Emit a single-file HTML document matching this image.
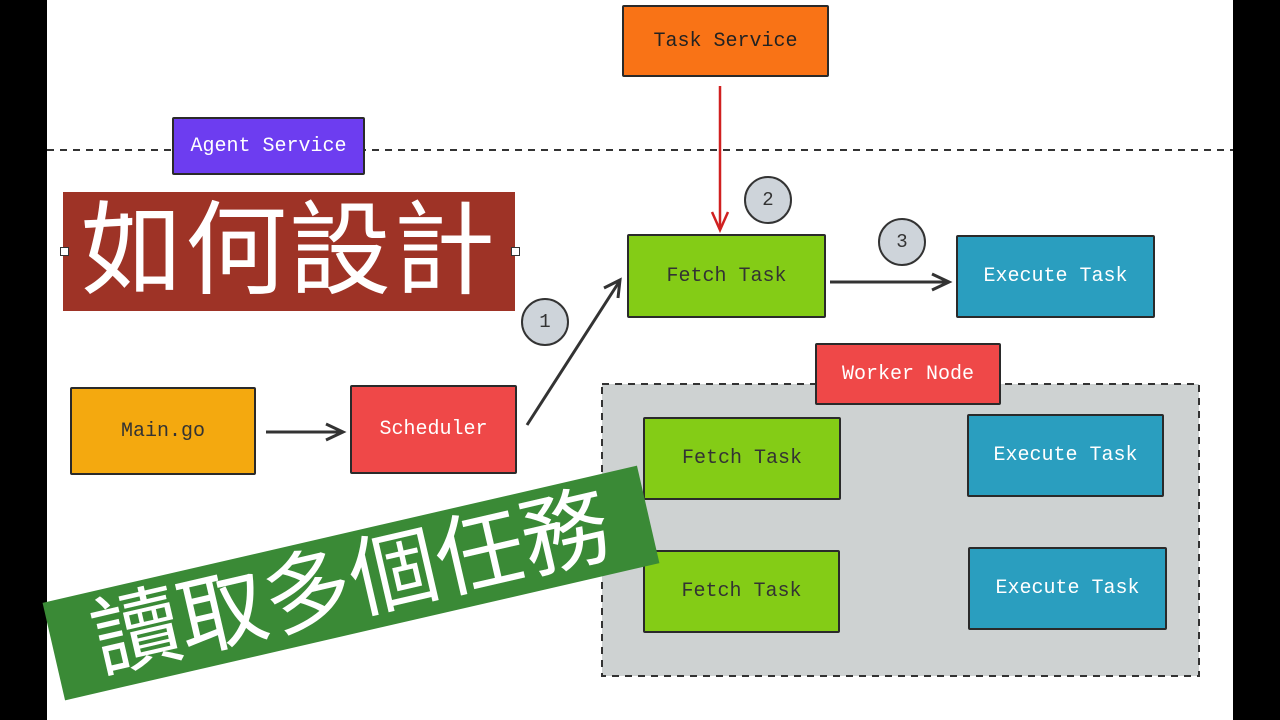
<!DOCTYPE html>
<html><head><meta charset="utf-8"><style>
body{margin:0;width:1280px;height:720px;background:#000;position:relative;overflow:hidden;font-family:"Liberation Mono",monospace}
#c{position:absolute;left:47px;top:0;width:1186px;height:720px;background:#fff}
.b{position:absolute;box-sizing:border-box;border:2.5px solid #2a2a2a;border-radius:2px;display:flex;align-items:center;justify-content:center;font-size:20px}
.cir{position:absolute;width:48px;height:48px;border-radius:50%;background:#ced4da;border:2.5px solid #333;box-sizing:border-box;display:flex;align-items:center;justify-content:center;font-size:19px;color:#333}
</style></head><body>
<div id="c"></div>
<svg width="1280" height="720" style="position:absolute;left:0;top:0">
<line x1="47" y1="150" x2="1233" y2="150" stroke="#333" stroke-width="2" stroke-dasharray="7,6"/>
<rect x="602" y="384" width="597" height="292" fill="#ced2d2" stroke="#333" stroke-width="2" stroke-dasharray="7,6"/>
<line x1="720" y1="86" x2="720" y2="228" stroke="#d02020" stroke-width="2.5"/>
<path d="M712 212 L720 230 L728 212" fill="none" stroke="#d02020" stroke-width="2.5"/>
<line x1="830" y1="282" x2="948" y2="282" stroke="#333" stroke-width="3"/>
<path d="M932 274 L949 282 L932 290" fill="none" stroke="#333" stroke-width="3"/>
<line x1="266" y1="432" x2="342" y2="432" stroke="#333" stroke-width="3"/>
<path d="M326 424 L343 432 L326 440" fill="none" stroke="#333" stroke-width="3"/>
<line x1="527" y1="425" x2="619" y2="282" stroke="#333" stroke-width="3"/>
<path d="M604 288 L620 280 L618 298" fill="none" stroke="#333" stroke-width="3"/>
</svg>
<div class="b" style="left:622px;top:5px;width:207px;height:72px;background:#f97316;color:#222">Task Service</div>
<div class="b" style="left:172px;top:117px;width:193px;height:58px;background:#6d3df0;color:#fff">Agent Service</div>
<div class="b" style="left:627px;top:234px;width:199px;height:84px;background:#84cc16;color:#333">Fetch Task</div>
<div class="b" style="left:956px;top:235px;width:199px;height:83px;background:#2a9ebf;color:#fff">Execute Task</div>
<div class="b" style="left:70px;top:387px;width:186px;height:88px;background:#f4a90f;color:#333">Main.go</div>
<div class="b" style="left:350px;top:385px;width:167px;height:89px;background:#ef4848;color:#fff">Scheduler</div>
<div class="b" style="left:815px;top:343px;width:186px;height:62px;background:#ef4848;color:#fff">Worker Node</div>
<div class="b" style="left:643px;top:417px;width:198px;height:83px;background:#84cc16;color:#333">Fetch Task</div>
<div class="b" style="left:967px;top:414px;width:197px;height:83px;background:#2a9ebf;color:#fff">Execute Task</div>
<div class="b" style="left:643px;top:550px;width:197px;height:83px;background:#84cc16;color:#333">Fetch Task</div>
<div class="b" style="left:968px;top:547px;width:199px;height:83px;background:#2a9ebf;color:#fff">Execute Task</div>
<div class="cir" style="left:744px;top:176px">2</div>
<div class="cir" style="left:878px;top:218px">3</div>
<div class="cir" style="left:521px;top:298px">1</div>
<div style="position:absolute;left:63px;top:192px;width:452px;height:119px;background:#9e3326;color:#fff;font-family:'Liberation Sans','Noto Sans CJK TC',sans-serif;font-size:102px;line-height:119px;text-align:center;letter-spacing:2px">如何設計</div>
<div style="position:absolute;left:60px;top:247px;width:7px;height:7px;background:#fff;border:1px solid #333"></div>
<div style="position:absolute;left:511px;top:247px;width:7px;height:7px;background:#fff;border:1px solid #333"></div>
<div style="position:absolute;left:46px;top:533px;width:610px;height:100px;background:#3a8a36;color:#fff;transform:rotate(-13deg);transform-origin:center;font-family:'Liberation Sans','Noto Sans CJK TC',sans-serif;font-size:88px;line-height:100px;text-align:center;white-space:nowrap">讀取多個任務</div>
</body></html>
